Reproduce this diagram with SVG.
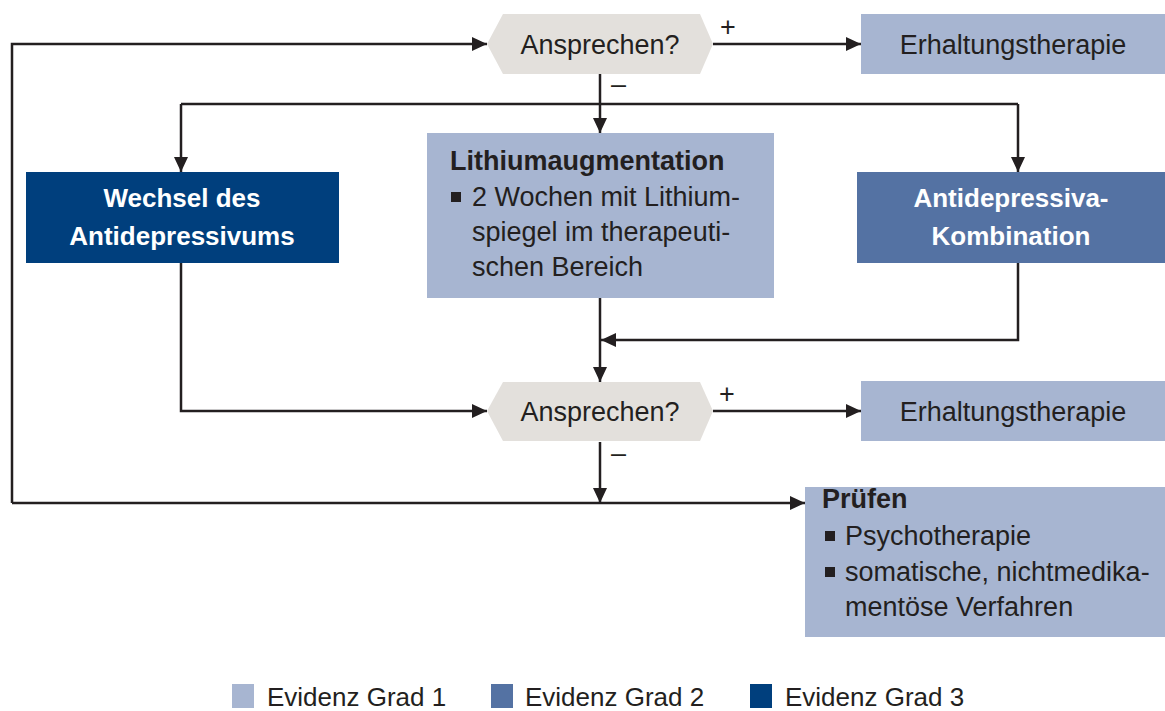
<svg xmlns="http://www.w3.org/2000/svg" width="1165" height="711" viewBox="0 0 1165 711">
<defs>
<style>
text{font-family:"Liberation Sans",Arial,sans-serif;fill:#231f20;font-size:27px}
.b{font-weight:bold}
.w{fill:#ffffff;font-weight:bold;font-size:26px}
.g1{fill:#a7b5d1}
.g2{fill:#5472a3}
.g3{fill:#003f7d}
.hex{fill:#e3e0dc}
.c{fill:none;stroke:#231f20;stroke-width:2.5}
.lg{font-size:26px}
</style>
<marker id="ah" markerUnits="userSpaceOnUse" markerWidth="16" markerHeight="14" refX="15" refY="7" orient="auto">
<path d="M0,0 L15,7 L0,14 Z" fill="#231f20"/>
</marker>
</defs>
<rect width="1165" height="711" fill="#ffffff"/>
<g id="connectors">
<path class="c" d="M12,503 L12,44 L487,44" marker-end="url(#ah)"/>
<path class="c" d="M12,503 L805,503" marker-end="url(#ah)"/>
<path class="c" d="M713,44 L861,44" marker-end="url(#ah)"/>
<path class="c" d="M600,74 L600,133" marker-end="url(#ah)"/>
<path class="c" d="M181,104 L1018,104"/>
<path class="c" d="M181,104 L181,172" marker-end="url(#ah)"/>
<path class="c" d="M1018,104 L1018,172" marker-end="url(#ah)"/>
<path class="c" d="M600,298 L600,382" marker-end="url(#ah)"/>
<path class="c" d="M1018,263 L1018,340 L601,340" marker-end="url(#ah)"/>
<path class="c" d="M181,263 L181,411 L487,411" marker-end="url(#ah)"/>
<path class="c" d="M713,411 L861,411" marker-end="url(#ah)"/>
<path class="c" d="M600,442 L600,503" marker-end="url(#ah)"/>
<text x="720" y="36" font-size="22">+</text>
<text x="611" y="93" font-size="22">–</text>
<text x="719" y="403" font-size="22">+</text>
<text x="611" y="462" font-size="22">–</text>
</g>
<g id="hex1">
<polygon class="hex" points="487,44 503,14 700,14 713,44 700,74 503,74"/>
<text x="600" y="54" text-anchor="middle">Ansprechen?</text>
</g>
<g id="erhaltung1">
<rect class="g1" x="861" y="14" width="304" height="60"/>
<text x="1013" y="54" text-anchor="middle">Erhaltungstherapie</text>
</g>
<g id="wechsel">
<rect class="g3" x="26" y="172" width="313" height="91"/>
<text class="w" x="182" y="207" text-anchor="middle">Wechsel des</text>
<text class="w" x="182" y="245" text-anchor="middle">Antidepressivums</text>
</g>
<g id="lithium">
<rect class="g1" x="427" y="133" width="347" height="165"/>
<text class="b" x="450" y="170">Lithiumaugmentation</text>
<rect x="451" y="192" width="10" height="10" fill="#231f20"/>
<text x="472" y="206">2 Wochen mit Lithium-</text>
<text x="472" y="241">spiegel im therapeuti-</text>
<text x="472" y="276">schen Bereich</text>
</g>
<g id="kombination">
<rect class="g2" x="857" y="172" width="308" height="91"/>
<text class="w" x="1011" y="207" text-anchor="middle">Antidepressiva-</text>
<text class="w" x="1011" y="245" text-anchor="middle">Kombination</text>
</g>
<g id="hex2">
<polygon class="hex" points="487,411 503,382 700,382 713,411 700,441 503,441"/>
<text x="600" y="421" text-anchor="middle">Ansprechen?</text>
</g>
<g id="erhaltung2">
<rect class="g1" x="861" y="381" width="304" height="60"/>
<text x="1013" y="421" text-anchor="middle">Erhaltungstherapie</text>
</g>
<g id="pruefen">
<rect class="g1" x="805" y="487" width="360" height="150"/>
<text class="b" x="822" y="508">Prüfen</text>
<rect x="825" y="531" width="10" height="10" fill="#231f20"/>
<text x="845" y="545">Psychotherapie</text>
<rect x="825" y="567" width="10" height="10" fill="#231f20"/>
<text x="845" y="581">somatische, nichtmedika-</text>
<text x="845" y="616">mentöse Verfahren</text>
</g>
<g id="legend">
<rect class="g1" x="232" y="684" width="22" height="24"/>
<text class="lg" x="267" y="706">Evidenz Grad 1</text>
<rect class="g2" x="491" y="684" width="22" height="24"/>
<text class="lg" x="525" y="706">Evidenz Grad 2</text>
<rect class="g3" x="750" y="684" width="22" height="24"/>
<text class="lg" x="785" y="706">Evidenz Grad 3</text>
</g>
</svg>
